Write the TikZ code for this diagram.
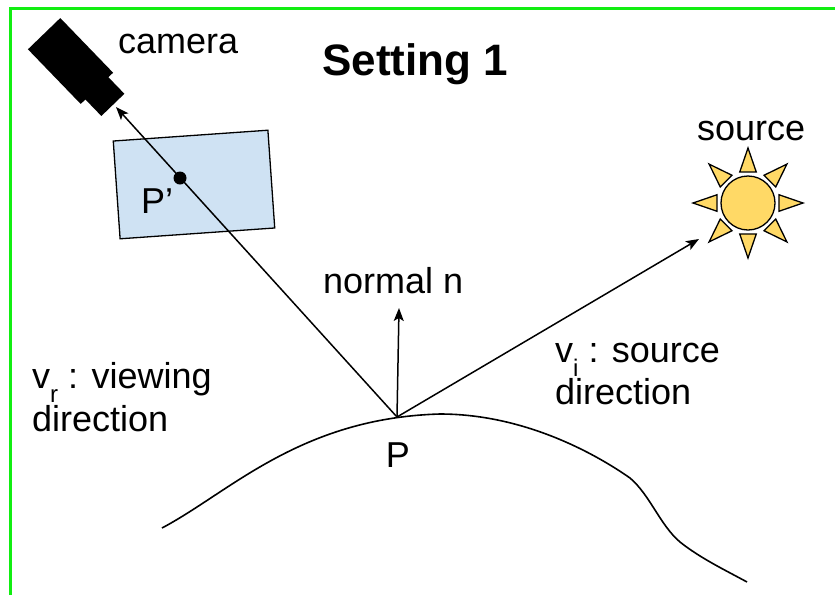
\documentclass[tikz,border=0pt]{standalone}
\usepackage{fontspec}
\setmainfont{Liberation Sans}
\usetikzlibrary{arrows.meta}
\definecolor{frameg}{HTML}{11EE11}
\definecolor{planeblue}{HTML}{CFE2F3}
\definecolor{sunyel}{HTML}{FFD966}
% lowered small index after v
\newcommand{\lsub}[1]{\raisebox{-14pt}{\fontsize{24}{24}\selectfont #1}}
\tikzset{
  lbl/.style={inner sep=0pt, font=\fontsize{36}{43}\selectfont, align=left},
  ray/.style={-{Stealth[length=13pt,width=10pt,inset=3pt]}, line width=1.5pt},
  surf/.style={line width=1.6pt},
  plane/.style={draw, line width=1.3pt, fill=planeblue, inner sep=0pt},
  sunball/.style={circle, draw, line width=1.3pt, fill=sunyel, minimum size=54pt, inner sep=0pt},
  sunray/.style={draw, line width=1.3pt, fill=sunyel, line join=miter},
  greenedge/.style={draw=frameg, line width=3pt},
}
\begin{document}
\begin{tikzpicture}[x=1pt, y=-1pt]
  \useasboundingbox (0,0) rectangle (835,595);
  \draw[greenedge] (10,595) -- (10,8) -- (835,8);

  % camera body and lens
  \begin{scope}[shift={(70.5,61)}, rotate=-46]
    \fill (-38,-22.5) rectangle (38,22.5);
    \fill (37,-16) rectangle (61,16);
  \end{scope}
  \coordinate (cam) at (116,107);

  % image plane
  \node[plane, minimum width=155pt, minimum height=98pt, rotate=4] (img) at (194,184.5) {};

  % surface
  \coordinate (P) at (397,417);
  \draw[surf] (162,528) .. controls (230,492) and (300,418) .. (440,414)
    .. controls (520,414) and (590,450) .. (630,478)
    .. controls (650,495) and (660,525) .. (680,542)
    .. controls (700,558) and (725,570) .. (747,582);

  % sun
  \node[sunball] (sun) at (748,203) {};
  \begin{scope}[shift={(748,203)}]
    \foreach \a in {0,45,...,315}
      \draw[sunray] (\a-15:32) -- (\a:55) -- (\a+15:32) -- cycle;
  \end{scope}
  \coordinate (src) at (699,239);
  \coordinate (ntip) at (399,308);

  % rays from P
  \draw[ray] (P) -- (cam);
  \draw[ray] (P) -- (ntip);
  \draw[ray] (P) -- (src);
  \node[circle, fill, minimum size=13pt, inner sep=0pt] (pimg) at (180,178) {};

  % labels
  \node[lbl, anchor=base west] (camlbl) at (118,53) {camera};
  \node[lbl, anchor=base west, font=\fontsize{44}{50}\selectfont\bfseries] (title) at (322,75) {Setting 1};
  \node[lbl, anchor=base west] (srclbl) at (697,140) {source};
  \node[lbl, anchor=base west] (nlbl) at (323,293) {normal n};
  \node[lbl, anchor=base west, font=\fontsize{36}{43}\selectfont] (vr) at (32,431) {v\lsub{r} : viewing\\direction};
  \node[lbl, anchor=base west, font=\fontsize{36}{39}\selectfont] (vi) at (555,404) {v\lsub{i} : source\\direction};
  \node[lbl, anchor=base] (plbl) at (398,467) {P};
  \node[lbl, anchor=base west] (pplbl) at (141,213) {P’};
\end{tikzpicture}
\end{document}
